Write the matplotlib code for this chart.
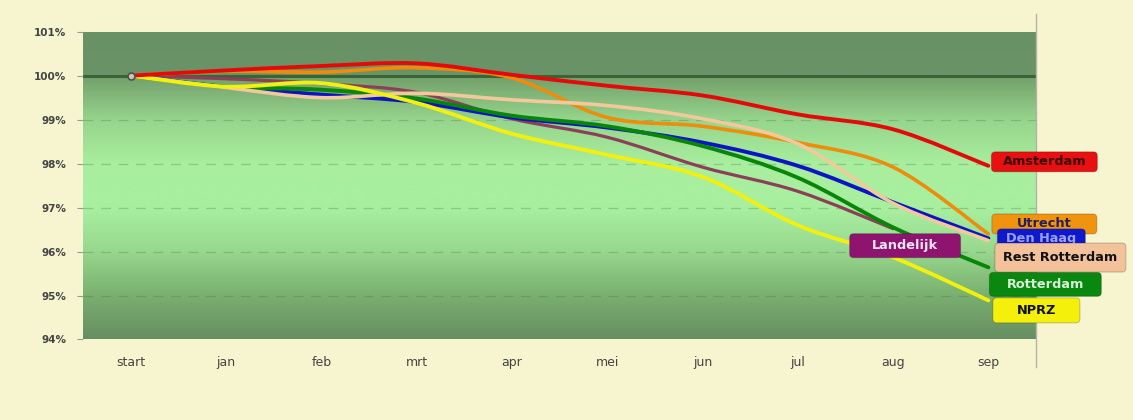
import numpy as np
import matplotlib
matplotlib.use("Agg")
import matplotlib.pyplot as plt
import matplotlib.transforms as mtransforms
from matplotlib.path import Path
from matplotlib.patches import PathPatch, FancyBboxPatch
from matplotlib.lines import Line2D

# index per maand, start = 100%
months = ["start", "jan", "feb", "mrt", "apr", "mei", "jun", "jul", "aug", "sep"]

amsterdam = [100.0, 100.12, 100.22, 100.28, 100.02, 99.77, 99.55, 99.12, 98.78, 97.95]
utrecht = [100.0, 100.10, 100.08, 100.18, 99.95, 99.05, 98.85, 98.48, 97.92, 96.40]
den_haag = [100.0, 99.74, 99.57, 99.40, 99.05, 98.82, 98.48, 97.95, 97.12, 96.30]
rest_rotterdam = [100.0, 99.73, 99.50, 99.60, 99.45, 99.32, 99.02, 98.45, 97.10, 96.25]
rotterdam = [100.0, 99.75, 99.68, 99.48, 99.09, 98.85, 98.40, 97.68, 96.55, 95.64]
nprz = [100.0, 99.75, 99.83, 99.38, 98.68, 98.20, 97.70, 96.60, 95.87, 94.89]
landelijk = [100.0, 99.93, 99.82, 99.62, 99.02, 98.60, 97.92, 97.37, 96.52, np.nan]

yticks = [94, 95, 96, 97, 98, 99, 100, 101]

series = [
    # naam, waarden, lijnkleur, labelkleur, tekstkleur, lijndikte
    ("Landelijk", landelijk, "#8c3f58", "#8e1470", "#f4e6f4", 2.3),
    ("Den Haag", den_haag, "#0c14c4", "#1018cc", "#9aa0ff", 2.8),
    ("Rotterdam", rotterdam, "#07860a", "#0a870e", "#d8f4d8", 2.8),
    ("Utrecht", utrecht, "#ee8c0c", "#f09410", "#23205a", 2.6),
    ("Rest Rotterdam", rest_rotterdam, "#f3c99c", "#f3c29a", "#111111", 2.6),
    ("NPRZ", nprz, "#f2f010", "#f4f00c", "#111111", 2.8),
    ("Amsterdam", amsterdam, "#e40a0a", "#e81010", "#3a0000", 2.8),
]

# labelvak t.o.v. het laatste punt: midden dx, dy, breedte, hoogte (pixels)
label_box = {
    "Amsterdam": (56, 4, 106, 20),
    "Utrecht": (56, 10, 105, 20),
    "Den Haag": (53, 0, 88, 19),
    "Rest Rotterdam": (72, -17, 131, 29),
    "Rotterdam": (57, -17, 112, 24),
    "NPRZ": (48, -10, 87, 25),
    "Landelijk": (12, -17, 111, 24),
}
label_order = ["Utrecht", "Den Haag", "Rotterdam", "Rest Rotterdam", "NPRZ", "Amsterdam", "Landelijk"]


def smooth_path(xs, ys):
    # gladde lijn door de punten (Catmull-Rom als bezier)
    pts = np.column_stack([xs, ys])
    n = len(pts)
    verts = [pts[0]]
    codes = [Path.MOVETO]
    for i in range(n - 1):
        p0 = pts[max(i - 1, 0)]
        p1 = pts[i]
        p2 = pts[i + 1]
        p3 = pts[min(i + 2, n - 1)]
        c1 = p1 + (p2 - p0) / 6.0
        c2 = p2 - (p3 - p1) / 6.0
        verts += [c1, c2, p2]
        codes += [Path.CURVE4] * 3
    return Path(verts, codes)


fig = plt.figure(figsize=(11.33, 4.2), dpi=100)
fig.patch.set_facecolor("#f6f5cf")
ax = fig.add_axes([0.0733, 0.1917, 0.8411, 0.7328])

# achtergrond: donker - licht - donker verloop
stops_v = [94, 95, 96, 97, 98, 99, 99.999, 100.0, 101]
stops_c = np.array([
    (103, 142, 98), (122, 176, 112), (152, 216, 142), (168, 240, 160),
    (168, 238, 158), (150, 212, 140), (114, 158, 106), (106, 148, 102), (104, 146, 102),
]) / 255.0
yy = np.linspace(101, 94, 600)
grad = np.stack([np.interp(yy, stops_v, stops_c[:, k]) for k in range(3)], axis=1)
ax.imshow(grad[:, None, :], extent=[-0.5, 9.5, 94, 101], aspect="auto",
          interpolation="bilinear", zorder=0)

for v in [95, 96, 97, 98, 99]:
    ax.axhline(v, color="#4e6e4a", lw=0.9, ls=(0, (8, 6)), alpha=0.3, zorder=1)
ax.axhline(100, color="#3a6338", lw=2.2, zorder=1)

ax.set_xlim(-0.5, 9.5)
ax.set_ylim(94, 101)

x = np.arange(len(months))
ends = {}
for name, vals, lc, bc, tc, lw in series:
    vals = np.array(vals, dtype=float)
    ok = ~np.isnan(vals)
    path = smooth_path(x[ok], vals[ok])
    ax.add_patch(PathPatch(path, facecolor="none", edgecolor=lc, lw=lw,
                           capstyle="round", joinstyle="round", zorder=3))
    ends[name] = (x[ok][-1], vals[ok][-1], bc, tc)

ax.plot([0], [amsterdam[0]], marker="o", ms=5, mfc="#c8c8b8", mec="#505050", mew=1.2, zorder=5)

# labels in vakjes naast het eindpunt van elke lijn
for z, name in enumerate(label_order):
    xe, ye, bc, tc = ends[name]
    dx, dy, w, h = label_box[name]
    px, py = ax.transData.transform((xe, ye))
    tr = mtransforms.Affine2D().translate(px, py)
    box = FancyBboxPatch((dx - w / 2, dy - h / 2), w, h,
                         boxstyle="round,pad=0,rounding_size=4",
                         fc=bc, ec="#00000030", lw=0.8, transform=tr,
                         clip_on=False, zorder=10 + 2 * z)
    fig.add_artist(box)
    fig.text(dx, dy, name, transform=tr, ha="center", va="center",
             fontsize=9.3, fontweight="bold", color=tc, zorder=11 + 2 * z)

ax.set_xticks(x)
ax.set_xticklabels(months, fontsize=9, color="#444444")
ax.tick_params(axis="x", length=0, pad=12)
ax.set_yticks(yticks)
ax.set_yticklabels([f"{v}%" for v in yticks], fontsize=7.5, fontweight="bold", color="#444444")
ax.tick_params(axis="y", length=4, color="#9a9a8a", pad=8)
for s in ax.spines.values():
    s.set_visible(False)

# scheidingslijn rechts
fig.add_artist(Line2D([1036 / 1133, 1036 / 1133], [1 - 14 / 420, 1 - 367 / 420],
                      color="#b4b4a4", lw=1.0))

fig.savefig("out.png", dpi=100, facecolor=fig.get_facecolor())
